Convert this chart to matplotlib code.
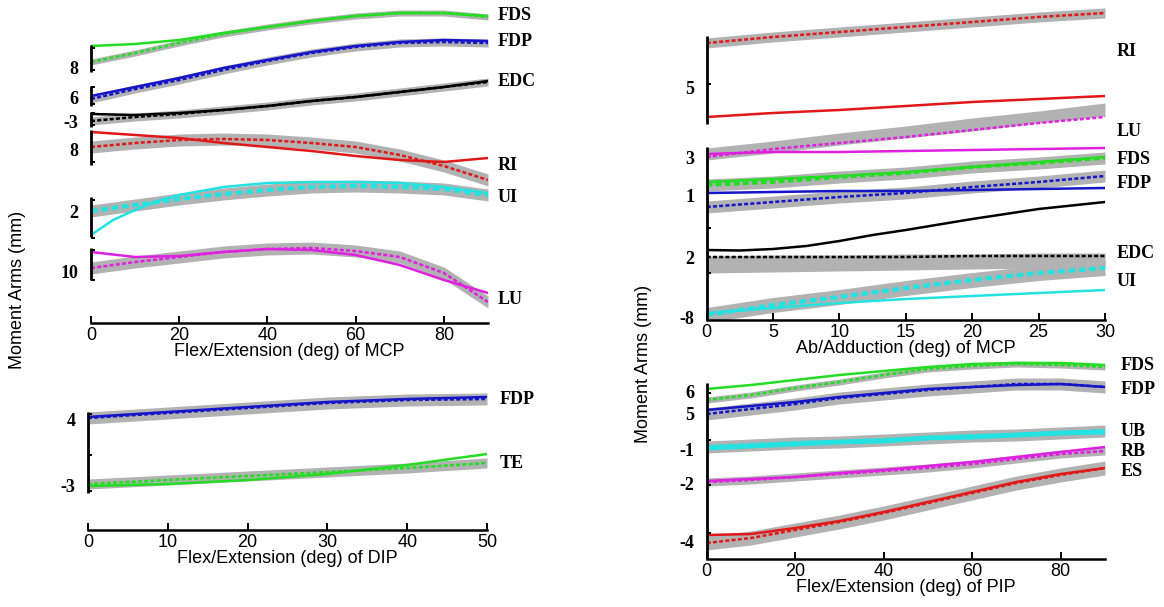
import numpy as np
import matplotlib
matplotlib.use("Agg")
import matplotlib.pyplot as plt

# Moment arms, stacked with an offset per muscle (panel units)
# solid = model, dashed = experimental mean, grey = +/- sd

# --- Flex/Extension of MCP (top left)
fe_mcp_deg = [0, 10, 20, 30, 40, 50, 60, 70, 80, 90]
fe_mcp_fds_model = [27.7, 27.9, 28.3, 29.0, 29.6, 30.2, 30.7, 31.0, 31.0, 30.7]
fe_mcp_fds_mean = [26.1, 27.0, 28.0, 28.9, 29.6, 30.2, 30.7, 31.0, 31.0, 30.6]
fe_mcp_fds_sd = 0.3
fe_mcp_fdp_model = [22.7, 23.6, 24.5, 25.5, 26.3, 27.1, 27.7, 28.1, 28.3, 28.2]
fe_mcp_fdp_mean = [22.4, 23.4, 24.3, 25.3, 26.2, 27.0, 27.6, 28.0, 28.1, 28.0]
fe_mcp_fdp_sd = 0.4
fe_mcp_edc_model = [20.9, 20.8, 21.0, 21.3, 21.7, 22.2, 22.6, 23.1, 23.6, 24.2]
fe_mcp_edc_mean = [20.2, 20.6, 20.9, 21.3, 21.7, 22.2, 22.6, 23.1, 23.6, 24.1]
fe_mcp_edc_sd = 0.4
fe_mcp_ri_model = [19.1, 18.8, 18.5, 18.0, 17.6, 17.2, 16.7, 16.3, 16.1, 16.5]
fe_mcp_ri_mean = [17.6, 18.0, 18.3, 18.4, 18.3, 18.0, 17.6, 16.8, 15.7, 14.3]
fe_mcp_ri_sd = 0.6
# UI model read on a finer grid near 0 where it bends
fe_mcp_ui_model_deg = [0, 5, 10, 15, 20, 30, 40, 50, 60, 70, 80, 90]
fe_mcp_ui_model = [8.8, 10.3, 11.3, 12.2, 12.8, 13.6, 14.0, 14.1, 14.1, 14.0, 13.6, 13.0]
fe_mcp_ui_mean = [11.2, 11.8, 12.4, 12.9, 13.3, 13.6, 13.7, 13.6, 13.4, 12.8]
fe_mcp_ui_sd = 0.6
fe_mcp_lu_model = [7.1, 6.6, 6.7, 7.1, 7.4, 7.3, 6.8, 5.8, 4.3, 3.0]
fe_mcp_lu_mean = [5.5, 6.1, 6.6, 7.1, 7.4, 7.5, 7.2, 6.6, 5.0, 2.1]
fe_mcp_lu_sd = 0.6

# --- Flex/Extension of DIP (bottom left)
fe_dip_deg = [0, 10, 20, 30, 40, 50]
fe_dip_fdp_model = [11.3, 11.8, 12.3, 12.8, 13.1, 13.3]
fe_dip_fdp_mean = [11.2, 11.7, 12.2, 12.7, 13.0, 13.1]
fe_dip_fdp_sd = 0.6
fe_dip_te_model = [4.4, 4.6, 5.0, 5.6, 6.5, 7.6]
fe_dip_te_mean = [4.6, 5.0, 5.4, 5.8, 6.2, 6.7]
fe_dip_te_sd = 0.5

# --- Ab/Adduction of MCP (top right)
aa_mcp_deg = [0, 5, 10, 15, 20, 25, 30]
aa_mcp_ri_model = [20.3, 20.7, 21.0, 21.4, 21.8, 22.1, 22.4]
aa_mcp_ri_mean = [27.7, 28.3, 28.8, 29.3, 29.8, 30.3, 30.7]
aa_mcp_ri_sd = 0.5
aa_mcp_lu_model = [16.6, 16.8, 16.8, 16.9, 17.0, 17.1, 17.2]
aa_mcp_lu_mean = [16.3, 17.1, 17.7, 18.3, 19.0, 19.7, 20.3]
aa_mcp_lu_lo = [16.0, 16.7, 17.5, 18.2, 18.9, 19.7, 20.4]
aa_mcp_lu_hi = [17.2, 17.9, 18.7, 19.4, 20.2, 20.9, 21.7]
aa_mcp_fds_model = [13.8, 14.1, 14.4, 14.8, 15.3, 15.8, 16.3]
aa_mcp_fds_mean = [13.5, 13.8, 14.3, 14.7, 15.3, 15.7, 16.2]
aa_mcp_fds_sd = 0.6
aa_mcp_fdp_model = [12.7, 12.8, 12.9, 12.9, 13.0, 13.1, 13.2]
aa_mcp_fdp_mean = [11.3, 11.8, 12.3, 12.7, 13.3, 13.8, 14.4]
aa_mcp_fdp_sd = 0.6
# EDC model read on a finer grid (S-shaped)
aa_mcp_edc_model_deg = [0, 2.5, 5, 7.5, 10, 12.5, 15, 20, 25, 30]
aa_mcp_edc_model = [7.0, 6.95, 7.1, 7.4, 7.9, 8.5, 9.0, 10.1, 11.1, 11.8]
aa_mcp_edc_mean = [6.3, 6.3, 6.3, 6.3, 6.4, 6.4, 6.4]
aa_mcp_edc_lo = [4.7, 4.8, 4.9, 5.0, 5.1, 5.2, 5.3]
aa_mcp_edc_hi = [6.4, 6.5, 6.5, 6.6, 6.6, 6.7, 6.7]
aa_mcp_ui_model = [0.7, 1.2, 1.7, 2.1, 2.4, 2.7, 3.0]
aa_mcp_ui_mean = [0.5, 1.5, 2.3, 3.2, 4.0, 4.7, 5.2]
aa_mcp_ui_sd = 0.75

# --- Flex/Extension of PIP (bottom right)
fe_pip_deg = [0, 10, 20, 30, 40, 50, 60, 70, 80, 90]
fe_pip_fds_model = [17.0, 17.4, 17.9, 18.4, 18.8, 19.2, 19.5, 19.6, 19.6, 19.4]
fe_pip_fds_mean = [15.9, 16.4, 17.1, 17.7, 18.4, 19.0, 19.3, 19.5, 19.4, 19.2]
fe_pip_fds_sd = 0.3
fe_pip_fdp_model = [14.9, 15.3, 15.7, 16.2, 16.6, 17.0, 17.2, 17.4, 17.5, 17.2]
fe_pip_fdp_mean = [14.5, 15.0, 15.5, 16.1, 16.5, 16.9, 17.2, 17.5, 17.5, 17.2]
fe_pip_fdp_sd = 0.6
fe_pip_ub_model = [11.1, 11.3, 11.5, 11.7, 11.8, 12.1, 12.2, 12.4, 12.6, 12.7]
fe_pip_ub_mean = [11.2, 11.4, 11.6, 11.7, 11.9, 12.1, 12.3, 12.4, 12.6, 12.8]
fe_pip_ub_sd = 0.6
fe_pip_rb_model = [7.8, 8.0, 8.2, 8.6, 8.9, 9.3, 9.7, 10.2, 10.7, 11.2]
fe_pip_rb_mean = [7.7, 7.9, 8.2, 8.5, 8.8, 9.1, 9.5, 10.0, 10.5, 10.8]
fe_pip_rb_sd = 0.4
fe_pip_es_model = [2.4, 2.5, 3.1, 3.8, 4.7, 5.7, 6.7, 7.7, 8.5, 9.1]
fe_pip_es_mean = [1.6, 2.1, 2.9, 3.7, 4.6, 5.6, 6.6, 7.6, 8.4, 9.1]
fe_pip_es_sd = 0.7

# muscle name labels and y tick labels of each stacked axis
fe_mcp_names = ["FDS", "FDP", "EDC", "RI", "UI", "LU"]
fe_mcp_name_y = [30.8, 28.2, 24.2, 15.7, 12.5, 2.4]
fe_mcp_ytick = ["8", "6", "-3", "8", "2", "10"]
fe_mcp_ytick_y = [25.5, 22.5, 20.1, 17.3, 11.2, 5.1]

fe_dip_names = ["FDP", "TE"]
fe_dip_name_y = [13.1, 6.7]
fe_dip_ytick = ["4", "-3"]
fe_dip_ytick_y = [11.0, 4.5]

aa_mcp_names = ["RI", "LU", "FDS", "FDP", "EDC", "UI"]
aa_mcp_name_y = [26.8, 18.8, 16.1, 13.7, 6.7, 3.9]
aa_mcp_ytick = ["5", "3", "1", "2", "-8"]
aa_mcp_ytick_y = [23.3, 16.3, 12.5, 6.3, 0.2]

fe_pip_names = ["FDS", "FDP", "UB", "RB", "ES"]
fe_pip_name_y = [19.3, 16.9, 12.8, 10.8, 8.7]
fe_pip_ytick = ["6", "5", "-1", "-2", "-4"]
fe_pip_ytick_y = [16.7, 14.6, 11.0, 7.6, 1.8]

GREEN = "#22dd22"
BLUE = "#1414c8"
BLACK = "#000000"
RED = "#e01818"
CYAN = "#22e2e2"
MAGENTA = "#e020e0"
BAND = "#b2b2b2"

SERIF = "Liberation Serif"
SANS = "Liberation Sans"


def draw_muscle(ax, x, model, mean, color, sd=None, lo=None, hi=None,
                lw=1.8, mean_lw=1.8, model_x=None):
    x = np.asarray(x)
    mean = np.asarray(mean)
    if model_x is None:
        model_x = x
    if lo is None:
        lo, hi = mean - sd, mean + sd
    ax.fill_between(x, lo, hi, color=BAND, lw=0, zorder=1)
    ax.plot(x, mean, color=color, lw=mean_lw, ls=(0, (1.6, 0.9)), zorder=2)
    ax.plot(model_x, model, color=color, lw=lw, zorder=3)


def setup(ax, xmax, xticks, xlabel, ymax, segments, ytick_y, ytick, marks,
          names, name_y, name_dx):
    ax.patch.set_visible(False)
    ax.set_xlim(0, xmax)
    ax.set_ylim(0, ymax)
    for s in ["top", "right", "left"]:
        ax.spines[s].set_visible(False)
    ax.spines["bottom"].set_linewidth(1.8)
    ax.set_xticks(xticks)
    ax.tick_params(axis="x", direction="in", length=5, width=1.4,
                   labelsize=13, pad=3)
    for lab in ax.get_xticklabels():
        lab.set_family(SANS)
    ax.set_xlabel(xlabel, fontsize=13, family=SANS, labelpad=-1)

    ax.set_yticks(ytick_y, ytick)
    ax.tick_params(axis="y", which="major", length=0, pad=9, labelsize=13)
    for lab in ax.get_yticklabels():
        lab.set_family(SERIF)
        lab.set_fontweight("bold")
    ax.set_yticks(marks, minor=True)
    ax.tick_params(axis="y", which="minor", direction="in", length=3, width=1.4)

    for lo, hi in segments:
        ax.plot([0, 0], [lo, hi], color="k", lw=2.0, clip_on=False,
                solid_capstyle="butt", zorder=4)

    for name, y in zip(names, name_y):
        ax.annotate(name, xy=(1, y), xycoords=("axes fraction", "data"),
                    xytext=(name_dx, 0), textcoords="offset pixels",
                    va="center", ha="left", fontsize=13, family=SERIF,
                    fontweight="bold")


fig = plt.figure(figsize=(11.64, 6.07), dpi=100)
W, H = 1164.0, 607.0


def add_axes(left, right, top, bottom):
    return fig.add_axes([left / W, 1 - bottom / H, (right - left) / W, (bottom - top) / H])


# top left
ax1 = add_axes(91, 488, 3, 323)
draw_muscle(ax1, fe_mcp_deg, fe_mcp_fds_model, fe_mcp_fds_mean, GREEN, sd=fe_mcp_fds_sd)
draw_muscle(ax1, fe_mcp_deg, fe_mcp_fdp_model, fe_mcp_fdp_mean, BLUE, sd=fe_mcp_fdp_sd)
draw_muscle(ax1, fe_mcp_deg, fe_mcp_edc_model, fe_mcp_edc_mean, BLACK, sd=fe_mcp_edc_sd)
draw_muscle(ax1, fe_mcp_deg, fe_mcp_ri_model, fe_mcp_ri_mean, RED, sd=fe_mcp_ri_sd)
draw_muscle(ax1, fe_mcp_deg, fe_mcp_ui_model, fe_mcp_ui_mean, CYAN, sd=fe_mcp_ui_sd,
            mean_lw=3.0, model_x=fe_mcp_ui_model_deg)
draw_muscle(ax1, fe_mcp_deg, fe_mcp_lu_model, fe_mcp_lu_mean, MAGENTA, sd=fe_mcp_lu_sd)
setup(ax1, 90, [0, 20, 40, 60, 80], "Flex/Extension (deg) of MCP", 32,
      [(25.1, 27.8), (21.7, 23.7), (19.6, 21.1), (15.8, 19.3), (8.6, 12.6), (4.3, 7.5)],
      fe_mcp_ytick_y, fe_mcp_ytick,
      [27.5, 25.3, 23.6, 21.9, 21.0, 19.8, 19.1, 16.1, 12.3, 8.5, 7.3, 4.3],
      fe_mcp_names, fe_mcp_name_y, 10)

# bottom left
ax2 = add_axes(88, 487, 380, 530)
draw_muscle(ax2, fe_dip_deg, fe_dip_fdp_model, fe_dip_fdp_mean, BLUE, sd=fe_dip_fdp_sd)
draw_muscle(ax2, fe_dip_deg, fe_dip_te_model, fe_dip_te_mean, GREEN, sd=fe_dip_te_sd)
setup(ax2, 50, [0, 10, 20, 30, 40, 50], "Flex/Extension (deg) of DIP", 15,
      [(3.7, 11.8)], fe_dip_ytick_y, fe_dip_ytick, [11.6, 7.5, 3.9],
      fe_dip_names, fe_dip_name_y, 13)

# top right
ax3 = add_axes(706.7, 1105, 5, 320)
draw_muscle(ax3, aa_mcp_deg, aa_mcp_ri_model, aa_mcp_ri_mean, RED, sd=aa_mcp_ri_sd)
draw_muscle(ax3, aa_mcp_deg, aa_mcp_lu_model, aa_mcp_lu_mean, MAGENTA,
            lo=aa_mcp_lu_lo, hi=aa_mcp_lu_hi)
draw_muscle(ax3, aa_mcp_deg, aa_mcp_fds_model, aa_mcp_fds_mean, GREEN, sd=aa_mcp_fds_sd,
            mean_lw=2.6)
draw_muscle(ax3, aa_mcp_deg, aa_mcp_fdp_model, aa_mcp_fdp_mean, BLUE, sd=aa_mcp_fdp_sd)
draw_muscle(ax3, aa_mcp_deg, aa_mcp_edc_model, aa_mcp_edc_mean, BLACK,
            lo=aa_mcp_edc_lo, hi=aa_mcp_edc_hi, model_x=aa_mcp_edc_model_deg)
draw_muscle(ax3, aa_mcp_deg, aa_mcp_ui_model, aa_mcp_ui_mean, CYAN, sd=aa_mcp_ui_sd,
            mean_lw=3.0)
setup(ax3, 30, [0, 5, 10, 15, 20, 25, 30], "Ab/Adduction (deg) of MCP", 31.5,
      [(19.6, 28.4), (0, 17.3)], aa_mcp_ytick_y, aa_mcp_ytick,
      [23.6, 13.8, 9.2, 4.7], aa_mcp_names, aa_mcp_name_y, 12)

# bottom right
ax4 = add_axes(706.7, 1105, 355, 559)
draw_muscle(ax4, fe_pip_deg, fe_pip_fds_model, fe_pip_fds_mean, GREEN, sd=fe_pip_fds_sd)
draw_muscle(ax4, fe_pip_deg, fe_pip_fdp_model, fe_pip_fdp_mean, BLUE, sd=fe_pip_fdp_sd)
draw_muscle(ax4, fe_pip_deg, fe_pip_ub_model, fe_pip_ub_mean, CYAN, sd=fe_pip_ub_sd,
            lw=3.5, mean_lw=3.0)
draw_muscle(ax4, fe_pip_deg, fe_pip_rb_model, fe_pip_rb_mean, MAGENTA, sd=fe_pip_rb_sd)
draw_muscle(ax4, fe_pip_deg, fe_pip_es_model, fe_pip_es_mean, RED, sd=fe_pip_es_sd)
setup(ax4, 90, [0, 20, 40, 60, 80], "Flex/Extension (deg) of PIP", 20.4,
      [(0, 17.6)], fe_pip_ytick_y, fe_pip_ytick, [16.6, 11.9, 7.4, 2.6],
      fe_pip_names, fe_pip_name_y, 16)

fig.text(18 / W, 1 - 290 / H, "Moment Arms (mm)", rotation=90, fontsize=13,
         family=SANS, ha="center", va="center")
fig.text(643 / W, 1 - 364 / H, "Moment Arms (mm)", rotation=90, fontsize=13,
         family=SANS, ha="center", va="center")

fig.savefig("out.png", dpi=100)
